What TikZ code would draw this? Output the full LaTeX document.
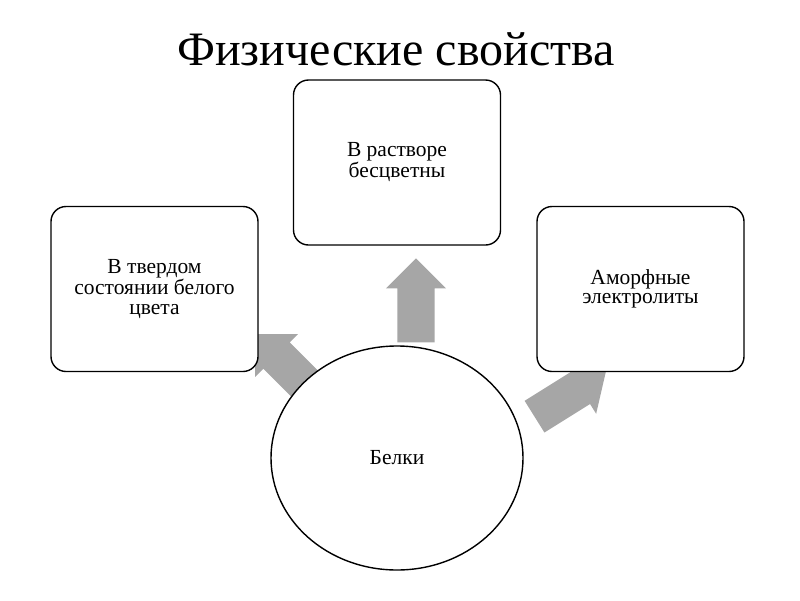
\documentclass[tikz,border=0pt]{standalone}
\usepackage{fontspec}
\setmainfont{Liberation Serif}
\usetikzlibrary{shapes.geometric,shapes.arrows,positioning}
\definecolor{arrowgray}{RGB}{166,166,166}
\tikzstyle{property map}=[
    x=1pt,y=-1pt,
    every node/.style={
        align=center,
        font=\fontsize{21.5}{19.5}\selectfont,
    },
    property/.style={
        draw, line width=1.4pt, fill=white, rounded corners=15pt,
        minimum width=207pt, minimum height=165pt, inner sep=0pt,
    },
    pointer/.style={
        single arrow, fill=arrowgray, draw=none, anchor=tip,
        minimum height=84pt, minimum width=60pt,
        inner xsep=0pt, inner ysep=18.5pt,
        single arrow head extend=11.5pt, single arrow tip angle=90,
}]
\newcommand{\threelines}[3]{#1\\#2\\#3}

\begin{document}
\begin{tikzpicture}[property map]
        \useasboundingbox (0,0) rectangle (800,600);
        \node[anchor=base, font=\fontsize{48}{52}\selectfont] (title) at (396,65) {Физические свойства};

        % arrows go first, the shapes cover their ends
        \node[pointer, rotate=135] (arL) at (255,334) {};
        \node[pointer, rotate=90] (arT) at (416,258) {};
        \node[pointer, rotate=32] (arR) at (606,372) {};

        \node[ellipse, draw, line width=1.4pt, fill=white, minimum width=252pt, minimum height=224pt, inner sep=0pt] (prot) at (397,458) {Белки};
        \node[property] (solid) at (154.5,289) {\threelines{В твердом}{состоянии белого}{цвета}};
        \node[property] (sol) at (397,162.5) {В растворе\\бесцветны};
        \node[property] (amorph) at (640.5,289) {Аморфные\\электролиты};
    \end{tikzpicture}
\end{document}
